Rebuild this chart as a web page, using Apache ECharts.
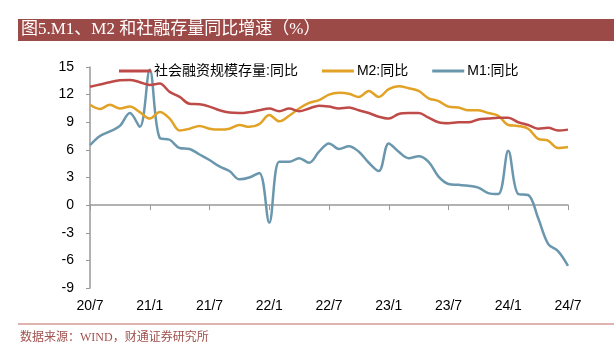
<!DOCTYPE html>
<html>
<head>
<meta charset="utf-8">
<script src="https://cdn.jsdelivr.net/npm/echarts@6/dist/echarts.min.js"></script>
<style>
html,body{margin:0;padding:0;background:#fff;}
#c{width:614px;height:346px;}
</style>
</head>
<body>
<div id="c"></div>
<script>
const categories = ['20/7','20/8','20/9','20/10','20/11','20/12',
  '21/1','21/2','21/3','21/4','21/5','21/6','21/7','21/8','21/9','21/10','21/11','21/12',
  '22/1','22/2','22/3','22/4','22/5','22/6','22/7','22/8','22/9','22/10','22/11','22/12',
  '23/1','23/2','23/3','23/4','23/5','23/6','23/7','23/8','23/9','23/10','23/11','23/12',
  '24/1','24/2','24/3','24/4','24/5','24/6','24/7'];

const tsfValues = [12.85,13.1,13.35,13.55,13.6,13.35,
  13.05,13.2,12.3,11.75,11.0,10.95,10.7,10.3,10.05,10.0,10.1,10.3,
  10.5,10.2,10.5,10.2,10.5,10.8,10.7,10.5,10.6,10.3,10.0,9.6,
  9.4,9.9,10.0,10.0,9.5,9.0,8.9,9.0,9.0,9.3,9.4,9.5,
  9.5,9.0,8.7,8.3,8.4,8.1,8.2];

const m2Values = [10.9,10.45,10.9,10.5,10.7,10.1,
  9.4,10.1,9.4,8.1,8.3,8.6,8.3,8.2,8.3,8.7,8.5,8.8,
  9.8,9.1,9.7,10.5,11.1,11.4,12.0,12.2,12.1,11.75,12.4,11.75,
  12.6,12.9,12.7,12.4,11.6,11.3,10.7,10.6,10.3,10.3,10.0,9.7,
  8.7,8.6,8.3,7.2,7.0,6.2,6.3];

const m1Values = [6.5,7.5,8.0,8.6,10.0,8.5,
  14.7,7.3,7.1,6.2,6.1,5.5,4.9,4.2,3.7,2.8,3.0,3.5,
  -1.9,4.7,4.7,5.1,4.6,5.8,6.7,6.1,6.4,5.8,4.6,3.7,
  6.7,5.8,5.1,5.3,4.7,3.1,2.3,2.2,2.1,1.9,1.3,1.2,
  5.9,1.2,1.1,-1.4,-4.2,-5.0,-6.6];

const yTicks = [-9,-6,-3,0,3,6,9,12,15];
const seriesNames = ['社会融资规模存量:同比','M2:同比','M1:同比'];
const titleText = '图5.M1、M2 和社融存量同比增速（%）';
const sourceText = '数据来源：WIND，财通证券研究所';

const chart = echarts.init(document.getElementById('c'), null, {renderer:'canvas'});
const serif = '"Liberation Serif","DejaVu Serif","Noto Sans CJK SC",serif';
const sans = '"Liberation Sans",Arial,"Noto Sans CJK SC",sans-serif';

chart.setOption({
  animation:false,
  backgroundColor:'#fff',
  graphic:[
    {type:'rect', shape:{x:18,y:19,width:596,height:22}, style:{fill:'#9C4A47'}},
    {type:'text', x:21, y:30, style:{text:titleText, fill:'#fff', font:'17px '+serif, verticalAlign:'middle'}},
    {type:'line', shape:{x1:18,y1:324,x2:614,y2:324}, style:{stroke:'#DDB2AF', lineWidth:2}},
    {type:'text', x:20, y:338, style:{text:sourceText, fill:'#A0524E', font:'12px '+serif, verticalAlign:'middle'}}
  ],
  legend:{
    left:114, top:59,
    icon:'rect', itemWidth:32, itemHeight:3, itemGap:24,
    textStyle:{fontSize:14, color:'#000', fontFamily:sans, padding:[0,0,0,-2]},
    data:seriesNames
  },
  grid:{left:90, right:46, top:67, bottom:58, outerBoundsMode:'none'},
  xAxis:[
    {
      type:'category', data:categories, boundaryGap:false, position:'bottom',
      axisLine:{show:false, onZero:false},
      axisTick:{show:false},
      axisLabel:{show:true, interval:5, margin:11, fontSize:14, color:'#000', fontFamily:sans},
      splitLine:{show:false}
    },
    {
      type:'category', data:categories, boundaryGap:false, position:'top',
      axisLine:{show:true, onZero:true, lineStyle:{color:'#999', width:1.5}},
      axisTick:{show:true, inside:true, interval:5, length:5, lineStyle:{color:'#999'}},
      axisLabel:{show:false},
      splitLine:{show:false}
    }
  ],
  yAxis:{
    type:'value', min:yTicks[0], max:yTicks[yTicks.length-1], interval:3,
    axisLine:{show:true, lineStyle:{color:'#999', width:1.5}},
    axisTick:{show:true, length:4, lineStyle:{color:'#999'}},
    axisLabel:{fontSize:14, color:'#000', margin:16, fontFamily:sans},
    splitLine:{show:false}
  },
  series:[
    {name:seriesNames[0], type:'line', data:tsfValues, smooth:0.35, symbol:'none', xAxisIndex:0,
     lineStyle:{color:'#BE4B48', width:2.5}, itemStyle:{color:'#BE4B48'}, z:3},
    {name:seriesNames[1], type:'line', data:m2Values, smooth:0.35, symbol:'none', xAxisIndex:0,
     lineStyle:{color:'#E2A226', width:2.5}, itemStyle:{color:'#E2A226'}, z:2},
    {name:seriesNames[2], type:'line', data:m1Values, smooth:0.35, symbol:'none', xAxisIndex:0,
     lineStyle:{color:'#6A97AD', width:2.5}, itemStyle:{color:'#6A97AD'}, z:1}
  ]
});
</script>
</body>
</html>
